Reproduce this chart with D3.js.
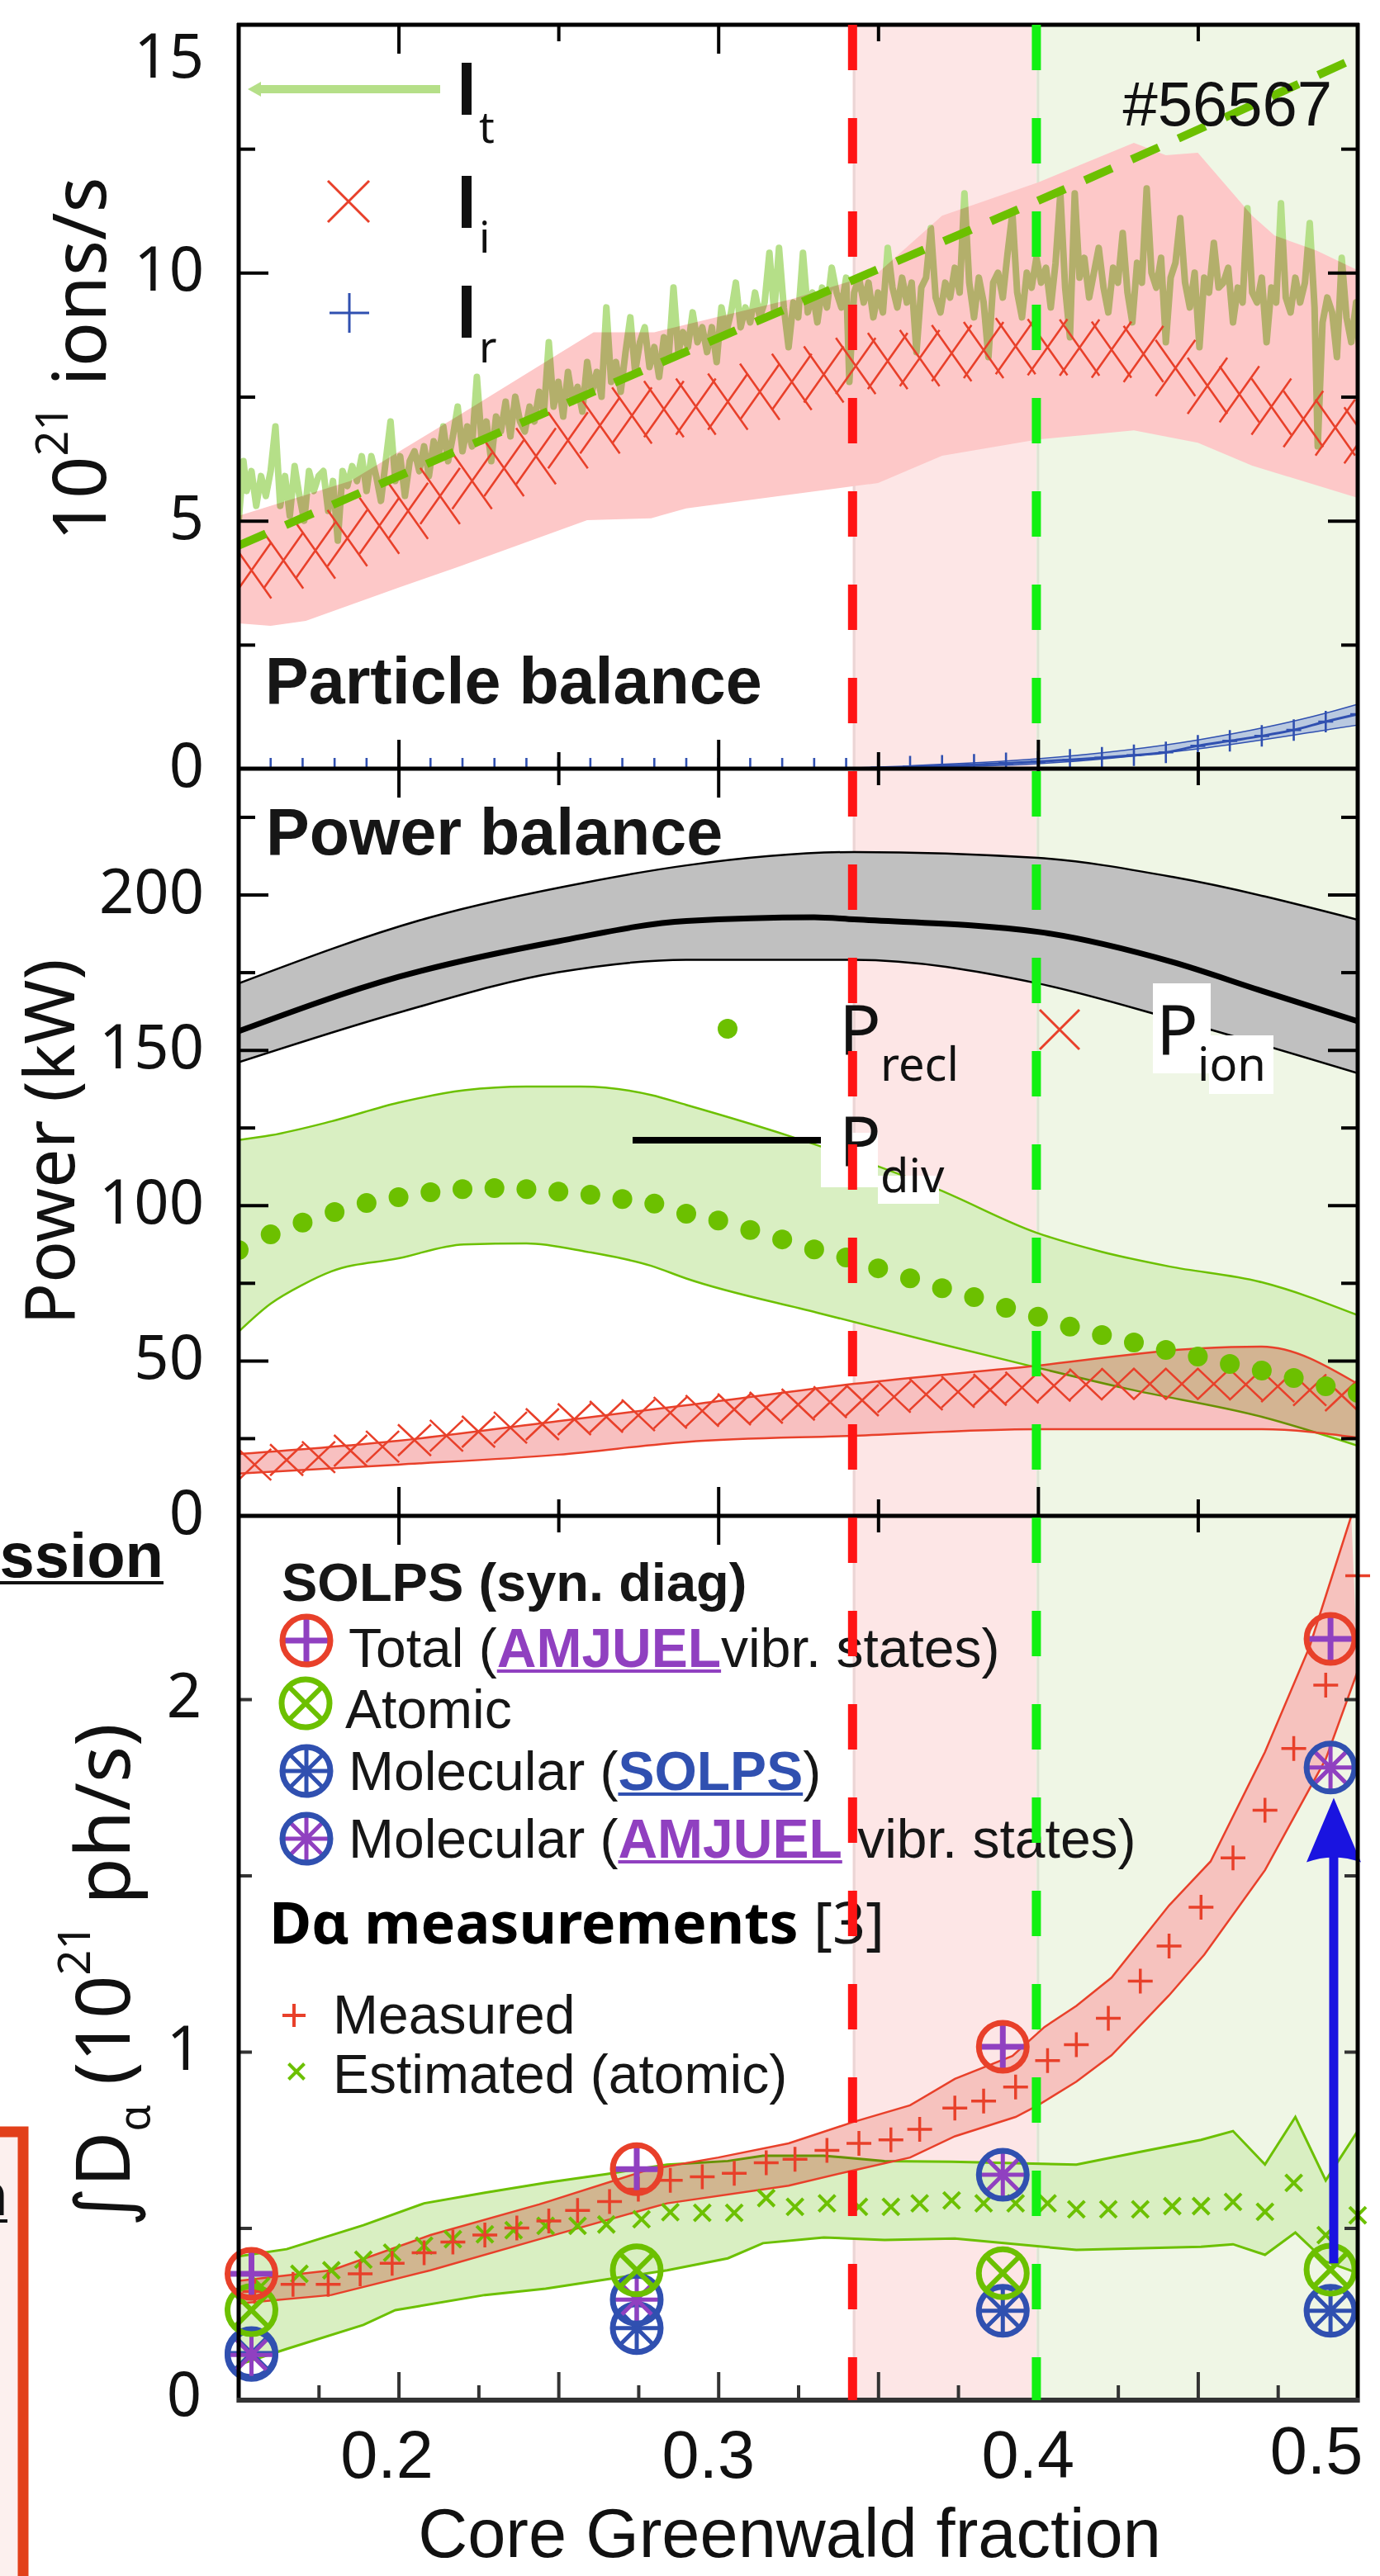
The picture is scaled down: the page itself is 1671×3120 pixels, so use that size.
<!DOCTYPE html>
<html>
<head>
<meta charset="utf-8">
<script src="https://cdn.jsdelivr.net/npm/d3@7"></script>
<style>
  body { margin: 0; background: #fff; }
  svg { display: block; }
  text { white-space: pre; }
</style>
</head>
<body>
<svg id="chart" width="1671" height="3120"></svg>
<script>
// ---------------- data ----------------
const xLim = [0.15, 0.5];
const topLim = [0, 15], midLim = [0, 240], botLim = [0, 2.52];
const regionEdges = [0.342, 0.3995];          // red / green dashed lines
const xTickLabels = ["0.2", "0.3", "0.4", "0.5"];
const xTickValues = [0.2, 0.3, 0.4, 0.5];

// particle balance: It (noisy target flux), dashed fit, Ii, Ir
const itTrace = [[0.150,5.0],[0.1515,6.2],[0.1525,5.6],[0.154,6.0],[0.1555,5.3],[0.157,5.9],[0.1585,5.5],[0.160,6.0],[0.1615,6.9],[0.163,5.3],
  [0.1645,5.9],[0.166,5.1],[0.1675,6.1],[0.169,5.5],[0.1705,5.0],[0.172,6.0],[0.1735,5.6],[0.175,5.9],[0.1765,6.0],[0.178,5.2],
  [0.1795,5.8],[0.181,4.6],[0.1825,6.0],[0.184,5.7],[0.1855,6.1],[0.187,5.8],[0.1885,6.3],[0.190,5.6],[0.1915,6.3],[0.193,5.9],
  [0.1945,5.4],[0.196,6.2],[0.1975,7.0],[0.199,5.8],[0.2005,6.3],[0.202,5.5],[0.2035,6.2],[0.205,6.4],[0.2065,6.0],[0.208,6.5],
  [0.2095,5.9],[0.211,6.6],[0.2125,6.3],[0.214,6.9],[0.2155,6.2],[0.217,6.7],[0.2185,7.3],[0.220,6.4],[0.2215,6.9],[0.223,6.5],
  [0.2245,7.9],[0.226,6.6],[0.2275,7.0],[0.229,6.2],[0.2305,7.1],[0.232,6.8],[0.2335,7.4],[0.235,6.7],[0.2365,7.5],[0.238,7.0],
  [0.2395,6.8],[0.241,7.3],[0.2425,7.0],[0.244,7.6],[0.2455,7.2],[0.247,8.6],[0.2485,7.3],[0.250,7.8],[0.2515,7.1],[0.253,8.0],
  [0.2545,7.4],[0.256,7.7],[0.2575,7.2],[0.259,8.2],[0.2605,7.6],[0.262,8.0],[0.2635,7.5],[0.265,9.3],[0.2665,7.8],[0.268,8.2],
  [0.2695,7.6],[0.271,8.4],[0.2725,9.1],[0.274,8.0],[0.2755,8.6],[0.277,8.9],[0.2785,8.1],[0.280,8.5],[0.2815,7.9],[0.283,8.7],
  [0.2845,8.3],[0.286,9.7],[0.2875,8.4],[0.289,8.8],[0.2905,8.5],[0.292,9.2],[0.2935,8.6],[0.295,8.9],[0.2965,8.4],[0.298,8.9],
  [0.2995,8.2],[0.301,9.3],[0.3025,8.8],[0.304,9.2],[0.3055,9.8],[0.307,8.9],[0.3085,9.3],[0.310,9.0],[0.3115,9.6],[0.313,9.1],
  [0.3145,9.4],[0.316,10.4],[0.3175,9.2],[0.319,10.5],[0.3205,9.3],[0.322,8.5],[0.3235,9.4],[0.325,9.1],[0.3265,10.4],[0.328,9.2],
  [0.3295,9.6],[0.331,9.0],[0.3325,9.7],[0.334,9.3],[0.3355,10.1],[0.337,9.6],[0.3385,9.3],[0.340,9.9],[0.341,7.8],[0.3425,9.6],
  [0.344,9.9],[0.3455,9.4],[0.347,9.8],[0.3485,9.1],[0.350,9.6],[0.3515,9.2],[0.353,10.5],[0.3545,9.7],[0.356,9.3],[0.3575,9.9],
  [0.359,9.4],[0.3605,9.8],[0.362,8.4],[0.3635,9.7],[0.365,9.9],[0.3665,10.9],[0.368,9.5],[0.3695,9.2],[0.371,9.8],[0.3725,9.5],
  [0.374,10.1],[0.3755,9.6],[0.377,11.6],[0.3785,9.8],[0.380,9.1],[0.3815,9.9],[0.383,9.4],[0.3845,8.3],[0.386,9.8],[0.3875,10.0],
  [0.389,9.5],[0.3905,10.4],[0.392,11.2],[0.3935,9.6],[0.395,9.1],[0.3965,10.0],[0.398,9.7],[0.3995,10.3],[0.401,9.8],[0.4025,10.1],
  [0.404,9.3],[0.4055,10.2],[0.407,11.6],[0.4085,9.7],[0.410,8.7],[0.4115,11.6],[0.413,9.9],[0.4145,10.3],[0.416,9.5],[0.4175,10.0],
  [0.419,10.5],[0.4205,9.7],[0.422,9.2],[0.4235,10.1],[0.425,9.8],[0.4265,10.8],[0.428,9.6],[0.4295,9.0],[0.431,10.2],[0.4325,9.8],
  [0.434,11.7],[0.4355,10.0],[0.437,9.7],[0.4385,10.3],[0.440,8.6],[0.4415,9.9],[0.443,10.2],[0.4445,11.1],[0.446,9.8],[0.4475,9.3],
  [0.449,10.0],[0.4505,8.5],[0.452,9.9],[0.4535,9.6],[0.455,10.6],[0.4565,9.7],[0.458,9.8],[0.4595,10.1],[0.461,9.0],[0.4625,9.7],
  [0.464,9.4],[0.4655,11.3],[0.467,9.6],[0.4685,9.4],[0.470,9.9],[0.4715,8.6],[0.473,9.7],[0.4745,9.4],[0.476,11.4],[0.4775,9.5],
  [0.479,9.2],[0.4805,9.9],[0.482,9.4],[0.4835,9.8],[0.485,11.0],[0.4865,9.3],[0.4875,6.5],[0.489,9.0],[0.4905,9.5],[0.492,9.2],
  [0.4935,8.3],[0.495,10.3],[0.4965,9.1],[0.498,8.6],[0.4995,9.4],[0.501,8.0]];
const itFitX = [0.15, 0.342, 0.4, 0.5];
const itFitY = [4.5, 9.85, 11.45, 14.35];

const iiX = [0.154,0.164,0.174,0.184,0.194,0.203,0.213,0.223,0.233,0.243,0.253,0.263,0.273,0.283,0.293,0.303,0.313,0.323,
  0.333,0.343,0.353,0.363,0.373,0.383,0.393,0.403,0.413,0.423,0.433,0.443,0.453,0.463,0.473,0.483,0.493,0.502];
const iiY = [4.0,4.2,4.4,4.65,4.9,5.2,5.5,5.8,6.06,6.3,6.62,6.92,7.12,7.25,7.3,7.4,7.6,7.8,
  7.95,8.12,8.22,8.28,8.38,8.44,8.52,8.5,8.49,8.45,8.36,8.08,7.72,7.55,7.3,7.05,6.88,6.72];
const iiHi = [[0.15,5.1],[0.185,5.8],[0.219,7.13],[0.261,8.8],[0.28,8.8],[0.323,9.47],[0.35,10.0],[0.37,11.15],[0.40,11.82],
  [0.43,12.62],[0.44,12.37],[0.45,12.42],[0.467,11.15],[0.474,10.75],[0.487,10.45],[0.50,10.05]];
const iiLo = [[0.15,2.93],[0.16,2.88],[0.171,2.98],[0.2,3.65],[0.22,4.1],[0.259,5.01],[0.279,5.05],[0.29,5.25],[0.35,5.76],
  [0.37,6.31],[0.40,6.64],[0.43,6.82],[0.45,6.57],[0.467,6.11],[0.50,5.46]];

const irX = [0.16,0.17,0.18,0.19,0.20,0.21,0.22,0.23,0.24,0.25,0.26,0.27,0.28,0.29,0.30,0.31,0.32,0.33,0.34,
  0.35,0.36,0.37,0.38,0.39,0.40,0.41,0.42,0.43,0.44,0.45,0.46,0.47,0.48,0.49,0.50];
const irY = [0,0,0,0,0,0,0,0,0,0,0,0,0,0,0,0,0,0,0,
  0.02,0.04,0.06,0.08,0.11,0.14,0.18,0.22,0.27,0.33,0.46,0.56,0.66,0.78,0.95,1.1];
const irHi = [[0.36,0.06],[0.40,0.2],[0.45,0.58],[0.49,1.12],[0.5,1.3]];
const irLo = [[0.36,0.02],[0.40,0.1],[0.45,0.4],[0.49,0.78],[0.5,0.88]];

// power balance
const pdivMid = [[0.15,156],[0.2,173.5],[0.25,185],[0.29,191.5],[0.33,192.7],[0.3425,192],[0.4,188],[0.442,178.3],[0.47,169],[0.5,159.2]];
const pdivHi = [[0.15,171.4],[0.21,192.7],[0.259,204],[0.29,209.4],[0.3425,213.7],[0.4,211.8],[0.442,205.7],[0.5,191.9]];
const pdivLo = [[0.15,146],[0.2,162],[0.25,175],[0.29,179],[0.3425,179],[0.4,171.4],[0.442,160],[0.5,142.5]];

const preclX = [0.15,0.16,0.17,0.18,0.19,0.20,0.21,0.22,0.23,0.24,0.25,0.26,0.27,0.28,0.29,0.30,0.31,0.32,
  0.33,0.34,0.35,0.36,0.37,0.38,0.39,0.40,0.41,0.42,0.43,0.44,0.45,0.46,0.47,0.48,0.49,0.50];
const preclY = [85.6,90.6,94.4,97.8,100.7,102.6,104.2,105.2,105.5,105.2,104.4,103.4,102,100.5,97.3,95.1,92,89,
  85.8,83.2,79.7,76.5,73.3,70.4,67,64.1,60.9,58.2,55.8,53.4,51.3,48.9,46.8,44.4,41.7,39.6];
const preclHi = [[0.15,121],[0.16,122.5],[0.179,127],[0.2,133],[0.2205,137],[0.24,138.2],[0.257,138.2],[0.279,135.5],
  [0.29,132.3],[0.3216,122.5],[0.369,105],[0.3994,91.2],[0.42,85],[0.441,80.3],[0.47,75.2],[0.5,64.6]];
const preclLo = [[0.15,59.3],[0.16,68.3],[0.17,74.4],[0.179,78.7],[0.2,82.9],[0.2205,87.4],[0.24,87.7],[0.259,85],
  [0.279,80.5],[0.29,76.4],[0.331,65.4],[0.369,55.5],[0.3994,47.8],[0.428,40.9],[0.47,31.9],[0.5,22.6]];

const pionX = [0.155,0.165,0.175,0.185,0.195,0.205,0.215,0.225,0.235,0.245,0.255,0.265,0.275,0.285,0.295,0.305,0.315,0.325,
  0.335,0.345,0.355,0.365,0.375,0.385,0.395,0.405,0.415,0.425,0.435,0.445,0.455,0.465,0.475,0.485,0.495];
const pionY = [16.5,18,18.9,21,22.3,24.4,25.8,27.1,28.4,29.5,31.1,31.9,32.4,33.2,33.8,34.3,34.8,35.8,
  36.6,37.2,38.3,39.1,39.9,40.6,41.3,41.9,42.3,42.5,42.5,42.5,42.5,42.3,41.7,40.5,38.8];
const pionHi = [[0.15,19.9],[0.2,24.2],[0.25,30.5],[0.29,35.6],[0.3425,42.5],[0.4,48.4],[0.45,53.9],[0.47,54.5],[0.5,42.5]];
const pionLo = [[0.15,13.6],[0.2,16.5],[0.25,19.7],[0.29,23.8],[0.3425,25.8],[0.4,27.9],[0.47,27.9],[0.5,25.2]];

// D-alpha emission
const measX = [0.155,0.167,0.178,0.188,0.198,0.208,0.217,0.227,0.237,0.247,0.256,0.266,0.275,0.285,0.295,0.305,0.315,0.324,
  0.334,0.344,0.354,0.363,0.374,0.383,0.393,0.403,0.412,0.422,0.432,0.441,0.451,0.461,0.471,0.480,0.490,0.500];
const measY = [0.32,0.34,0.34,0.37,0.40,0.43,0.46,0.48,0.50,0.52,0.55,0.575,0.61,0.635,0.645,0.655,0.685,0.695,
  0.72,0.74,0.75,0.78,0.84,0.86,0.90,0.975,1.02,1.095,1.20,1.30,1.41,1.55,1.685,1.86,2.04,2.35];
const measHi = [[0.15,0.35],[0.179,0.38],[0.21,0.48],[0.244,0.567],[0.278,0.665],[0.30,0.70],[0.322,0.74],[0.342,0.80],
  [0.36,0.848],[0.374,0.923],[0.392,0.988],[0.402,1.07],[0.412,1.13],[0.423,1.21],[0.441,1.415],[0.454,1.54],
  [0.471,1.85],[0.485,2.15],[0.498,2.52]];
const measLo = [[0.15,0.286],[0.179,0.31],[0.21,0.38],[0.244,0.468],[0.278,0.555],[0.284,0.57],[0.322,0.62],[0.342,0.663],
  [0.36,0.70],[0.374,0.76],[0.393,0.815],[0.40,0.848],[0.412,0.915],[0.423,0.99],[0.441,1.16],[0.452,1.275],
  [0.471,1.515],[0.49,1.83],[0.5,2.08]];

const estX = [0.157,0.169,0.179,0.189,0.198,0.208,0.217,0.227,0.236,0.246,0.256,0.265,0.276,0.285,0.295,0.305,0.315,0.324,
  0.334,0.344,0.354,0.363,0.373,0.383,0.393,0.403,0.412,0.422,0.432,0.442,0.451,0.461,0.471,0.480,0.490,0.500];
const estY = [0.335,0.37,0.38,0.41,0.43,0.45,0.468,0.482,0.494,0.506,0.506,0.51,0.525,0.545,0.543,0.543,0.585,0.56,
  0.57,0.56,0.56,0.57,0.578,0.57,0.57,0.57,0.553,0.553,0.553,0.562,0.562,0.574,0.546,0.628,0.48,0.536];
const atomHi = [[0.15,0.42],[0.165,0.44],[0.189,0.508],[0.208,0.57],[0.227,0.60],[0.246,0.628],[0.265,0.653],[0.284,0.68],
  [0.303,0.69],[0.314,0.705],[0.333,0.705],[0.352,0.69],[0.373,0.688],[0.412,0.68],[0.432,0.716],[0.451,0.75],
  [0.461,0.775],[0.471,0.68],[0.4805,0.815],[0.490,0.635],[0.50,0.775]];
const atomLo = [[0.15,0.112],[0.165,0.157],[0.189,0.225],[0.199,0.267],[0.227,0.31],[0.246,0.328],[0.265,0.354],[0.284,0.38],
  [0.303,0.414],[0.314,0.457],[0.333,0.473],[0.352,0.466],[0.374,0.47],[0.412,0.438],[0.451,0.447],[0.461,0.454],
  [0.471,0.424],[0.4805,0.487],[0.490,0.405],[0.50,0.372]];

const solpsX = [0.154, 0.2745, 0.389, 0.4915];
const solpsTotal = [0.37, 0.667, 1.014, 2.171];
const solpsAtomic = [0.267, 0.38, 0.372, 0.382];
const solpsMolSolps = [0.145, 0.216, 0.265, 0.265];
const solpsMolAmjuel = [0.14, 0.297, 0.651, 1.806];
const arrowX = 0.4925, arrowFrom = 0.40, arrowTo = 1.72;

// ---------------- setup ----------------
const fArial = "'Liberation Sans', Arial, sans-serif";
const fMyr = "'Noto Sans', 'DejaVu Sans', sans-serif";
const red = "#e8402a", green = "#6cc000", blue = "#3050b0", purple = "#9040c0";

const svg = d3.select("#chart");
const x = d3.scaleLinear().domain(xLim).range([289, 1644]);
const yTop = d3.scaleLinear().domain(topLim).range([931, 30]);
const yMid = d3.scaleLinear().domain(midLim).range([1836, 933]);
const yBot = d3.scaleLinear().domain(botLim).range([2912, 1836]);

const defs = svg.append("defs");
[["cTop", 30, 931], ["cMid", 931, 1836], ["cBot", 1836, 2907]].forEach(c => {
  defs.append("clipPath").attr("id", c[0]).append("rect")
    .attr("x", 289).attr("y", c[1]).attr("width", 1355).attr("height", c[2] - c[1]);
});

// bands: upper edge forward, lower edge backward; smooth=true for the model curves
function band(y, hi, lo, smooth) {
  const c = smooth ? d3.curveMonotoneX : d3.curveLinear;
  const up = d3.line().curve(c).x(d => x(d[0])).y(d => y(d[1]))(hi);
  const dn = d3.line().curve(c).x(d => x(d[0])).y(d => y(d[1]))(lo.slice().reverse().map(d => [d[0], d[1]]));
  // reversed lower edge breaks monotone-x ordering, so draw it separately and stitch
  return up + "L" + dn.slice(1) + "Z";
}
function trace(y, pts, smooth) {
  return d3.line().curve(smooth ? d3.curveMonotoneX : d3.curveLinear).x(d => x(d[0])).y(d => y(d[1]))(pts);
}
const zip = (a, b) => a.map((v, i) => [v, b[i]]);
function xMark(w, h) { return `M${-w/2},${-h/2}L${w/2},${h/2}M${-w/2},${h/2}L${w/2},${-h/2}`; }
function plusMark(w, h) { return `M${-w/2},0H${w/2}M0,${-h/2}V${h/2}`; }
function starMark(r) {
  let p = "";
  for (let k = 0; k < 4; k++) {
    const a = k * Math.PI / 4;
    p += `M${-r*Math.cos(a)},${-r*Math.sin(a)}L${r*Math.cos(a)},${r*Math.sin(a)}`;
  }
  return p;
}

// shaded regimes + separators
svg.append("rect").attr("x", x(regionEdges[0])).attr("y", 30)
  .attr("width", x(regionEdges[1]) - x(regionEdges[0])).attr("height", 2877).attr("fill", "#fde6e6");
svg.append("rect").attr("x", x(regionEdges[1])).attr("y", 30)
  .attr("width", x(0.5) - x(regionEdges[1])).attr("height", 2877).attr("fill", "#eff6e5");
regionEdges.forEach(e => svg.append("line").attr("x1", x(e) + 2).attr("x2", x(e) + 2).attr("y1", 30).attr("y2", 2907)
  .attr("stroke", "rgba(0,0,0,0.07)").attr("stroke-width", 3));

// ---------------- particle balance ----------------
const gTop = svg.append("g").attr("clip-path", "url(#cTop)");
gTop.append("path").attr("d", band(yTop, iiHi, iiLo)).attr("fill", "#fdc8c8").style("mix-blend-mode", "multiply");
gTop.append("path").attr("d", band(yTop, irHi, irLo, true)).attr("fill", "#b9c9e0").attr("stroke", blue).attr("stroke-width", 1.5);
gTop.append("path").attr("d", trace(yTop, itTrace)).attr("fill", "none").attr("stroke", "#b5df88")
  .attr("stroke-width", 8).attr("stroke-linejoin", "round").style("mix-blend-mode", "multiply");
gTop.selectAll(".ii").data(zip(iiX, iiY)).join("path")
  .attr("transform", d => `translate(${x(d[0])},${yTop(d[1])})`).attr("d", xMark(48, 68))
  .attr("fill", "none").attr("stroke", red).attr("stroke-width", 2.6);
gTop.append("path").attr("d", trace(yTop, zip(itFitX, itFitY), true)).attr("fill", "none").attr("stroke", green)
  .attr("stroke-width", 10).attr("stroke-dasharray", "36,26");
gTop.append("path").attr("d", trace(yTop, zip(irX, irY), true)).attr("fill", "none").attr("stroke", blue).attr("stroke-width", 3);
gTop.selectAll(".ir").data(zip(irX, irY)).join("path")
  .attr("transform", d => `translate(${x(d[0])},${yTop(d[1])})`).attr("d", plusMark(18, 26))
  .attr("fill", "none").attr("stroke", blue).attr("stroke-width", 2.6);

// ---------------- power balance ----------------
const gMid = svg.append("g").attr("clip-path", "url(#cMid)");
gMid.append("path").attr("d", band(yMid, pdivHi, pdivLo, true)).attr("fill", "#c0c0c0").style("mix-blend-mode", "multiply");
[pdivHi, pdivLo].forEach(b => gMid.append("path").attr("d", trace(yMid, b, true)).attr("fill", "none").attr("stroke", "#000").attr("stroke-width", 2.5));
gMid.append("path").attr("d", trace(yMid, pdivMid, true)).attr("fill", "none").attr("stroke", "#000").attr("stroke-width", 7);
gMid.append("path").attr("d", band(yMid, preclHi, preclLo, true)).attr("fill", "#d9efc2").style("mix-blend-mode", "multiply");
[preclHi, preclLo].forEach(b => gMid.append("path").attr("d", trace(yMid, b, true)).attr("fill", "none").attr("stroke", green).attr("stroke-width", 2.5));
gMid.append("path").attr("d", band(yMid, pionHi, pionLo, true)).attr("fill", "#f8c0c0").style("mix-blend-mode", "multiply");
[pionHi, pionLo].forEach(b => gMid.append("path").attr("d", trace(yMid, b, true)).attr("fill", "none").attr("stroke", red).attr("stroke-width", 2.5));
gMid.selectAll(".pion").data(zip(pionX, pionY)).join("path")
  .attr("transform", d => `translate(${x(d[0])},${yMid(d[1])})`).attr("d", xMark(40, 38))
  .attr("fill", "none").attr("stroke", red).attr("stroke-width", 2.6);
gMid.selectAll(".precl").data(zip(preclX, preclY)).join("circle")
  .attr("cx", d => x(d[0])).attr("cy", d => yMid(d[1])).attr("r", 12).attr("fill", green);

// ---------------- D-alpha emission ----------------
const gBot = svg.append("g").attr("clip-path", "url(#cBot)");
gBot.append("path").attr("d", band(yBot, atomHi, atomLo)).attr("fill", "#d9efc2").style("mix-blend-mode", "multiply");
[atomHi, atomLo].forEach(b => gBot.append("path").attr("d", trace(yBot, b)).attr("fill", "none").attr("stroke", green).attr("stroke-width", 3));
gBot.append("path").attr("d", band(yBot, measHi, measLo)).attr("fill", "#f6c2be").style("mix-blend-mode", "multiply");
[measHi, measLo].forEach(b => gBot.append("path").attr("d", trace(yBot, b)).attr("fill", "none").attr("stroke", red).attr("stroke-width", 2.5));
const gPts = svg.append("g");
gPts.selectAll(".est").data(zip(estX, estY)).join("path")
  .attr("transform", d => `translate(${x(d[0])},${yBot(d[1])})`).attr("d", xMark(20, 20))
  .attr("fill", "none").attr("stroke", green).attr("stroke-width", 4);
gPts.selectAll(".meas").data(zip(measX, measY)).join("path")
  .attr("transform", d => `translate(${x(d[0])},${yBot(d[1])})`).attr("d", plusMark(30, 30))
  .attr("fill", "none").attr("stroke", red).attr("stroke-width", 3.5);

const R = 29;
function marker(g, kind, cx, cy) {
  const m = g.append("g").attr("transform", `translate(${cx},${cy})`);
  const ring = { total: red, atomic: green, molS: blue, molA: blue }[kind];
  if (kind === "total") m.append("path").attr("d", plusMark(2 * R, 2 * R)).attr("stroke", purple).attr("stroke-width", 7);
  if (kind === "atomic") m.append("path").attr("d", xMark(R * 1.41, R * 1.41)).attr("stroke", green).attr("stroke-width", 6);
  if (kind === "molS") m.append("path").attr("d", starMark(R)).attr("stroke", blue).attr("stroke-width", 5);
  if (kind === "molA") m.append("path").attr("d", starMark(R)).attr("stroke", purple).attr("stroke-width", 5);
  m.append("circle").attr("r", R).attr("fill", "none").attr("stroke", ring).attr("stroke-width", 7);
}
solpsX.forEach((g, i) => {
  marker(gPts, "molS", x(g), yBot(solpsMolSolps[i]));
  marker(gPts, "molA", x(g), yBot(solpsMolAmjuel[i]));
  marker(gPts, "atomic", x(g), yBot(solpsAtomic[i]));
  marker(gPts, "total", x(g), yBot(solpsTotal[i]));
});
// arrow: molecular SOLPS -> molecular AMJUEL
const ax = x(arrowX), tipY = yBot(arrowTo);
svg.append("line").attr("x1", ax).attr("x2", ax).attr("y1", yBot(arrowFrom)).attr("y2", tipY + 60)
  .attr("stroke", "#1a14e0").attr("stroke-width", 11);
svg.append("path").attr("d", `M${ax},${tipY}L${ax + 33},${tipY + 78}Q${ax},${tipY + 66} ${ax - 33},${tipY + 78}Z`).attr("fill", "#1a14e0");

// ---------------- frame & ticks ----------------
function noDomain(g) { g.select(".domain").remove(); g.selectAll("line").attr("stroke-width", 4); }
const xMajor = [0.2, 0.3, 0.4], xMinor = [0.25, 0.35, 0.45];
[[30, "down"], [931, "up"], [931, "down"], [1836, "up"], [1836, "down"]].forEach(([yy, dir]) => {
  [[xMajor, 35], [xMinor, 20]].forEach(([vals, len]) => {
    const ax2 = dir === "down" ? d3.axisBottom(x) : d3.axisTop(x);
    svg.append("g").attr("transform", `translate(0,${yy})`)
      .call(ax2.tickValues(vals).tickSize(len).tickFormat("")).call(noDomain);
  });
});
[[[0.2, 0.25, 0.3, 0.35, 0.4, 0.45], 34], [[0.175, 0.225, 0.275, 0.325, 0.375, 0.425, 0.475], 18]].forEach(([vals, len]) => {
  svg.append("g").attr("transform", "translate(0,2907)")
    .call(d3.axisTop(x).tickValues(vals).tickSize(len).tickFormat("")).call(noDomain)
    .selectAll("line").attr("stroke", "#333");
});
function yTicks(scale, major, minor, majLen, minLen, color) {
  [[major, majLen], [minor, minLen]].forEach(([vals, len]) => {
    svg.append("g").attr("transform", "translate(289,0)")
      .call(d3.axisRight(scale).tickValues(vals).tickSize(len).tickFormat("")).call(noDomain)
      .selectAll("line").attr("stroke", color);
    svg.append("g").attr("transform", "translate(1644,0)")
      .call(d3.axisLeft(scale).tickValues(vals).tickSize(len).tickFormat("")).call(noDomain)
      .selectAll("line").attr("stroke", color);
  });
}
yTicks(yTop, [5, 10], [2.5, 7.5, 12.5], 36, 20, "#000");
yTicks(yMid, [50, 100, 150, 200], [25, 75, 125, 175, 225], 36, 20, "#000");
yTicks(yBot, [1, 2], [0.5, 1.5], 16, 16, "#333");

const frame = [[289, 28, 289, 2910], [1644, 28, 1644, 2910], [287, 30, 1646, 30], [287, 931, 1646, 931], [287, 1836, 1646, 1836]];
frame.forEach(f => svg.append("line").attr("x1", f[0]).attr("y1", f[1]).attr("x2", f[2]).attr("y2", f[3])
  .attr("stroke", "#000").attr("stroke-width", 5));
svg.append("line").attr("x1", 287).attr("x2", 1646).attr("y1", 2907).attr("y2", 2907).attr("stroke", "#333").attr("stroke-width", 6);

// tick labels
function lab(txt, xx, yy, size, family, anchor) {
  return svg.append("text").attr("x", xx).attr("y", yy).attr("font-family", family || fMyr)
    .attr("font-size", size).attr("text-anchor", anchor || "end").attr("fill", "#111").text(txt);
}
[[15, 94], [10, yTop(10) + 22], [5, yTop(5) + 22], [0, yTop(0) + 22]].forEach(d => lab(String(d[0]), 247, d[1], 74));
[200, 150, 100, 50, 0].forEach(v => lab(String(v), 247, yMid(v) + 22, 74));
[2, 1, 0].forEach(v => lab(String(v), 244, yBot(v) + (v === 0 ? 14 : 22), 74));
const xLabShift = [-14, -12, -12, -50];
xTickValues.forEach((v, i) => lab(xTickLabels[i], x(v) + xLabShift[i], i === 3 ? 2996 : 3001, 81, fArial, "middle"));
lab("Core Greenwald fraction", 956, 3097, 83, fArial, "middle");

// axis titles
const t1 = svg.append("text").attr("transform", "translate(128,435) rotate(-90)").attr("text-anchor", "middle")
  .attr("font-family", fMyr).attr("font-size", 90).attr("fill", "#111");
t1.append("tspan").text("10");
t1.append("tspan").attr("font-size", 54).attr("dy", -46).text("21");
t1.append("tspan").attr("dy", 46).text(" ions/s");
svg.append("text").attr("transform", "translate(90,1383) rotate(-90)").attr("text-anchor", "middle")
  .attr("font-family", fMyr).attr("font-size", 84).attr("fill", "#111").text("Power (kW)");
const t3 = svg.append("text").attr("transform", "translate(157,2392) rotate(-90)").attr("text-anchor", "middle")
  .attr("font-family", fMyr).attr("font-size", 92).attr("fill", "#111");
t3.append("tspan").text("∫D");
t3.append("tspan").attr("font-size", 52).attr("dy", 24).text("α");
t3.append("tspan").attr("dy", -24).text(" (10");
t3.append("tspan").attr("font-size", 54).attr("dy", -48).text("21");
t3.append("tspan").attr("dy", 48).text(" ph/s)");

// ---------------- annotations & legends ----------------
function boldLab(txt, xx, yy, size, family) {
  svg.append("text").attr("x", xx).attr("y", yy).attr("font-family", family || fArial).attr("font-weight", "bold")
    .attr("font-size", size).attr("fill", "#161616").text(txt);
}
boldLab("Particle balance", 321, 852, 79);
boldLab("Power balance", 322, 1035, 79);
lab("#56567", 1613, 152, 76, fArial, "end");

// particle legend
svg.append("line").attr("x1", 310).attr("x2", 533).attr("y1", 108).attr("y2", 108).attr("stroke", "#b5df88").attr("stroke-width", 10);
svg.append("path").attr("d", "M300,108L316,99L316,117Z").attr("fill", "#b5df88");
svg.append("path").attr("transform", "translate(422,244)").attr("d", xMark(50, 50)).attr("stroke", red).attr("stroke-width", 3).attr("fill", "none");
svg.append("path").attr("transform", "translate(423,379)").attr("d", plusMark(48, 48)).attr("stroke", blue).attr("stroke-width", 3).attr("fill", "none");
[["t", 139, 173], ["i", 276, 306], ["r", 409, 439]].forEach(([s, b, sb]) => {
  svg.append("rect").attr("x", 559).attr("y", b - 63).attr("width", 12).attr("height", 63).attr("fill", "#111");
  svg.append("text").attr("x", 580).attr("y", sb).attr("font-family", fMyr).attr("font-size", 52).attr("fill", "#111").text(s);
});

// power legend
svg.append("circle").attr("cx", 881).attr("cy", 1246).attr("r", 12).attr("fill", green);
svg.append("line").attr("x1", 766).attr("x2", 994).attr("y1", 1381).attr("y2", 1381).attr("stroke", "#000").attr("stroke-width", 8);
svg.append("path").attr("transform", "translate(1283,1247)").attr("d", xMark(48, 48)).attr("stroke", red).attr("stroke-width", 3).attr("fill", "none");
[[1396, 1191, 70, 109], [1464, 1254, 78, 71], [994, 1372, 69, 66], [1063, 1424, 74, 34]].forEach(r =>
  svg.append("rect").attr("x", r[0]).attr("y", r[1]).attr("width", r[2]).attr("height", r[3]).attr("fill", "#fff"));
[["recl", 1016, 1277], ["ion", 1400, 1277], ["div", 1016, 1412]].forEach(([s, px, py]) => {
  svg.append("text").attr("x", px).attr("y", py).attr("font-family", fMyr).attr("font-size", 84).attr("fill", "#111").text("P");
  svg.append("text").attr("x", px + 50).attr("y", py + 32).attr("font-family", fMyr).attr("font-size", 56).attr("fill", "#111").text(s);
});

// emission legend
function runs(x0, y0, parts) {
  let cx = x0;
  parts.forEach(p => {
    const t = svg.append("text").attr("x", cx).attr("y", y0).attr("font-family", p.f || fArial)
      .attr("font-size", p.s || 66).attr("font-weight", p.b ? "bold" : "normal").attr("fill", p.c || "#161616").text(p.t);
    const w = t.node().getComputedTextLength();
    if (p.u) svg.append("line").attr("x1", cx).attr("x2", cx + w).attr("y1", y0 + 5).attr("y2", y0 + 5)
      .attr("stroke", p.c).attr("stroke-width", 4);
    cx += w;
  });
}
runs(341, 1939, [{ t: "SOLPS (syn. diag)", b: true, s: 65 }]);
runs(422, 2019, [{ t: "Total (" }, { t: "AMJUEL", b: true, c: purple, u: true }, { t: "vibr. states)" }]);
runs(418, 2093, [{ t: "Atomic" }]);
runs(422, 2168, [{ t: "Molecular (" }, { t: "SOLPS", b: true, c: blue, u: true }, { t: ")" }]);
runs(422, 2250, [{ t: "Molecular (" }, { t: "AMJUEL", b: true, c: purple, u: true }, { t: " vibr. states)" }]);
runs(326, 2354, [{ t: "Dα measurements", b: true, f: fMyr, s: 70, c: "#000" }, { t: " [3]", f: fMyr, s: 70 }]);
runs(403, 2463, [{ t: "Measured" }]);
runs(403, 2535, [{ t: "Estimated (atomic)" }]);
const gLeg = svg.append("g");
marker(gLeg, "total", 371, 1987);
marker(gLeg, "atomic", 370, 2063);
marker(gLeg, "molS", 371, 2145);
marker(gLeg, "molA", 371, 2227);
svg.append("path").attr("transform", "translate(356,2441)").attr("d", plusMark(28, 28)).attr("stroke", red).attr("stroke-width", 4).attr("fill", "none");
svg.append("path").attr("transform", "translate(359,2509)").attr("d", xMark(19, 19)).attr("stroke", green).attr("stroke-width", 4).attr("fill", "none");

// neighbouring panel fragments at the left edge
lab("Emission", 198, 1910, 76, fArial, "end").attr("font-weight", "bold");
svg.append("line").attr("x1", 0).attr("x2", 198).attr("y1", 1917).attr("y2", 1917).attr("stroke", "#111").attr("stroke-width", 4);
svg.append("rect").attr("x", -40).attr("y", 2582).attr("width", 68).attr("height", 600)
  .attr("fill", "#fcf0ee").attr("stroke", "#e2401a").attr("stroke-width", 13);
lab("ion", 9, 2683, 72, fArial, "end").attr("font-weight", "bold");
svg.append("line").attr("x1", 0).attr("x2", 9).attr("y1", 2690).attr("y2", 2690).attr("stroke", "#111").attr("stroke-width", 4);

// regime boundaries on top of everything
[[regionEdges[0], "#ff1414"], [regionEdges[1], "#12f012"]].forEach(([v, c]) => {
  svg.append("line").attr("x1", x(v)).attr("x2", x(v)).attr("y1", 30).attr("y2", 2907)
    .attr("stroke", c).attr("stroke-width", 11).attr("stroke-dasharray", "55,58");
});
</script>
</body>
</html>
